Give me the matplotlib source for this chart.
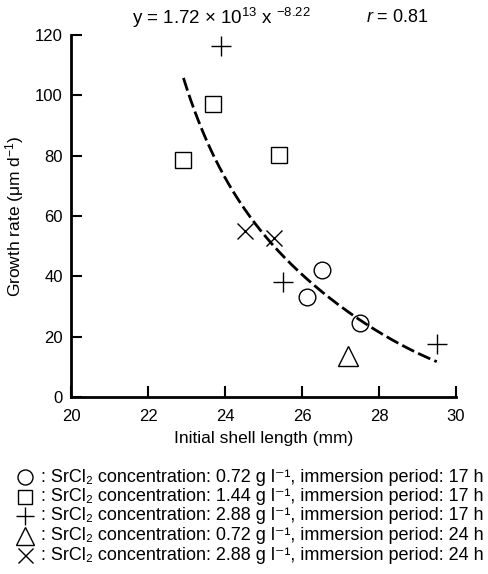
import numpy as np
import matplotlib.pyplot as plt
from matplotlib.lines import Line2D

plt.rcParams['font.family'] = ['Liberation Sans', 'DejaVu Sans']
plt.rcParams['mathtext.fontset'] = 'custom'
plt.rcParams['mathtext.rm'] = 'Liberation Sans'
plt.rcParams['mathtext.it'] = 'Liberation Sans:italic'

# data
circle_x = [26.12, 26.53, 27.51]
circle_y = [33.1, 42.0, 24.5]
square_x = [22.90, 23.70, 25.40]
square_y = [78.4, 97.1, 80.3]
plus_x = [23.90, 25.50, 29.50]
plus_y = [116.4, 38.0, 17.6]
tri_x = [27.19]
tri_y = [13.5]
cross_x = [24.52, 25.28]
cross_y = [55.1, 52.7]

# fitted curve (y = 1.72e13 x^-8.22)
curve_x = [22.92, 23.22, 23.57, 24.00, 24.48, 24.91, 25.25, 25.77, 26.21,
           26.64, 27.25, 27.51, 28.29, 29.50]
curve_y = [107.8, 93.5, 82.4, 71.4, 63.6, 55.9, 50.9, 43.2, 38.8,
           33.2, 27.2, 25.5, 19.5, 11.7]

equation = r'y = 1.72 $\times$ 10$^{13}$ x $^{-8.22}$'
r_text = r'$r$ = 0.81'

legend_labels = [
    'SrCl₂ concentration: 0.72 g l⁻¹, immersion period: 17 h',
    'SrCl₂ concentration: 1.44 g l⁻¹, immersion period: 17 h',
    'SrCl₂ concentration: 2.88 g l⁻¹, immersion period: 17 h',
    'SrCl₂ concentration: 0.72 g l⁻¹, immersion period: 24 h',
    'SrCl₂ concentration: 2.88 g l⁻¹, immersion period: 24 h',
]
legend_markers = [('o', 12), ('s', 11.5), ('+', 14), ('^', 14.5), ('x', 12)]

fig = plt.figure(figsize=(4.88, 5.74), dpi=100)
ax = fig.add_axes([0.1455, 0.3084, 0.789, 0.6307])

mk = dict(linestyle='none', color='black', markerfacecolor='none', markeredgewidth=1.0, clip_on=False)
series = [(circle_x, circle_y), (square_x, square_y), (plus_x, plus_y),
          (tri_x, tri_y), (cross_x, cross_y)]
for (xs, ys), (m, ms) in zip(series, legend_markers):
    ax.plot(xs, ys, marker=m, markersize=ms, **mk)

# smooth the traced curve (cubic in log-log space)
coef = np.polyfit(np.log(curve_x), np.log(curve_y), 3)
xx = np.linspace(curve_x[0], curve_x[-1], 200)
ax.plot(xx, np.exp(np.polyval(coef, np.log(xx))), color='black', linewidth=2.0, dashes=(4.8, 1.6))

ax.set_xlim(20, 30)
ax.set_ylim(0, 120)
ax.set_xticks(range(20, 31, 2))
ax.set_yticks(range(0, 121, 20))
for s in ['top', 'right']:
    ax.spines[s].set_visible(False)
for s in ['left', 'bottom']:
    ax.spines[s].set_linewidth(2.0)
ax.tick_params(direction='in', length=7.7, width=1.5, labelsize=12)
ax.tick_params(axis='x', pad=9)
ax.tick_params(axis='y', pad=6)

ax.set_xlabel('Initial shell length (mm)', fontsize=12.5, labelpad=5)
ax.set_ylabel('Growth rate (μm d$^{-1}$)', fontsize=12.5, labelpad=6)

fig.text(221 / 488, 1 - 18 / 574, equation, fontsize=13.5, ha='center', va='center')
fig.text(397 / 488, 1 - 18 / 574, r_text, fontsize=13, ha='center', va='center')

# legend under the plot: symbol, then ': description'
for i, (label, (m, ms)) in enumerate(zip(legend_labels, legend_markers)):
    yf = 1 - (477 + 19.5 * i) / 574
    fig.add_artist(Line2D([25 / 488], [yf], marker=m, markersize=ms * 0.9,
                          transform=fig.transFigure, **mk))
    fig.text(41 / 488, yf, ': ' + label, fontsize=13, ha='left', va='center')

fig.savefig('out.png', dpi=100)
